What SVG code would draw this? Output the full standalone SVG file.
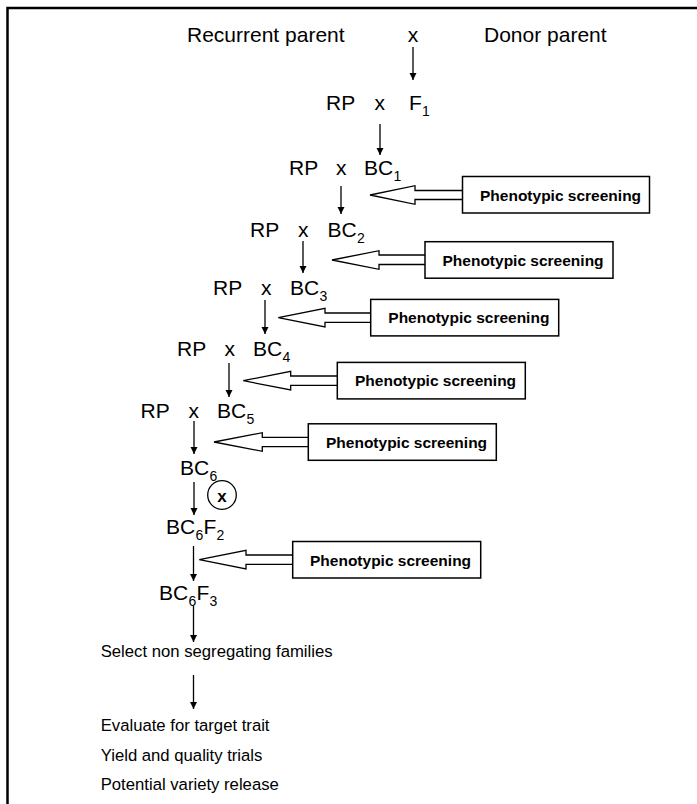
<svg xmlns="http://www.w3.org/2000/svg" width="697" height="804" viewBox="0 0 697 804">
<defs>
<marker id="ah" viewBox="0 0 10 10" refX="10" refY="5" markerWidth="7" markerHeight="9" markerUnits="userSpaceOnUse" orient="auto">
<path d="M0,0 L10,5 L0,10 Z" fill="#000"/>
</marker>
<style>
text{font-family:"Liberation Sans",Arial,sans-serif;fill:#000}
.lg{font-size:21px}
.sb{font-size:14px}
.sm{font-size:16.7px}
.ph{font-size:15.5px;font-weight:bold}
.box{fill:#fff;stroke:#000;stroke-width:1.5}
.blk{fill:#fff;stroke:#000;stroke-width:1.3;stroke-linejoin:miter}
.ar{stroke:#000;stroke-width:1.3;fill:none;marker-end:url(#ah)}
</style>
</defs>
<rect width="697" height="804" fill="#fff"/>
<path d="M7.5,804 V8 H697" fill="none" stroke="#000" stroke-width="2.5"/>

<g id="connectors">
<line class="ar" x1="413" y1="47" x2="413" y2="80"/>
<line class="ar" x1="380" y1="124" x2="380" y2="155"/>
<line class="ar" x1="341" y1="186" x2="341" y2="214"/>
<line class="ar" x1="303" y1="241" x2="303" y2="273"/>
<line class="ar" x1="265" y1="300" x2="265" y2="334"/>
<line class="ar" x1="229" y1="363" x2="229" y2="397"/>
<line class="ar" x1="194" y1="421" x2="194" y2="454"/>
<line class="ar" x1="194" y1="482" x2="194" y2="515"/>
<line class="ar" x1="193.5" y1="546" x2="193.5" y2="581"/>
<line class="ar" x1="193.5" y1="606" x2="193.5" y2="642"/>
<line class="ar" x1="193.5" y1="675" x2="193.5" y2="709"/>
</g>

<g id="parents">
<text class="lg" x="187" y="42">Recurrent parent</text>
<text class="lg" x="407.7" y="42">x</text>
<text class="lg" x="484" y="42">Donor parent</text>
</g>

<g id="row-f1">
<text class="lg" x="326" y="110">RP</text>
<text class="lg" x="374.5" y="110">x</text>
<text class="lg" x="409" y="110">F</text>
<text class="sb" x="422" y="116">1</text>
</g>

<g id="row-bc1">
<text class="lg" x="289" y="175">RP</text>
<text class="lg" x="336" y="175">x</text>
<text class="lg" x="364" y="175">BC</text>
<text class="sb" x="393.5" y="181">1</text>
</g>

<g id="row-bc2">
<text class="lg" x="250" y="237">RP</text>
<text class="lg" x="298" y="237">x</text>
<text class="lg" x="327.5" y="237">BC</text>
<text class="sb" x="357" y="243">2</text>
</g>

<g id="row-bc3">
<text class="lg" x="213" y="295">RP</text>
<text class="lg" x="261" y="295">x</text>
<text class="lg" x="290" y="295">BC</text>
<text class="sb" x="319.5" y="301">3</text>
</g>

<g id="row-bc4">
<text class="lg" x="177" y="356">RP</text>
<text class="lg" x="224.5" y="356">x</text>
<text class="lg" x="253" y="356">BC</text>
<text class="sb" x="282.5" y="362">4</text>
</g>

<g id="row-bc5">
<text class="lg" x="140.5" y="418">RP</text>
<text class="lg" x="188.5" y="418">x</text>
<text class="lg" x="217" y="418">BC</text>
<text class="sb" x="246.5" y="424">5</text>
</g>

<g id="bc6">
<text class="lg" x="180" y="475">BC</text>
<text class="sb" x="209.5" y="481">6</text>
</g>

<g id="selfing">
<circle cx="222" cy="495" r="14.3" fill="#fff" stroke="#000" stroke-width="1.3"/>
<text x="222" y="501.5" text-anchor="middle" style="font-size:17px;font-weight:bold">x</text>
</g>

<g id="bc6f2">
<text class="lg" x="166" y="534">BC</text>
<text class="sb" x="195.5" y="540">6</text>
<text class="lg" x="203.5" y="534">F</text>
<text class="sb" x="216.5" y="540">2</text>
</g>

<g id="bc6f3">
<text class="lg" x="159" y="600">BC</text>
<text class="sb" x="188.5" y="606">6</text>
<text class="lg" x="196.5" y="600">F</text>
<text class="sb" x="209.5" y="606">3</text>
</g>

<g id="screen1">
<path class="blk" d="M462.5,190.5 H415 V185.7 L370,195 L415,204.3 V199.5 H462.5"/>
<rect class="box" x="462.5" y="176.5" width="187" height="36.5"/>
<text class="ph" x="480" y="200.5">Phenotypic screening</text>
</g>

<g id="screen2">
<path class="blk" d="M425,255 H379 V250.7 L332,260 L379,269.3 V264.5 H425"/>
<rect class="box" x="425" y="241.7" width="188" height="36.5"/>
<text class="ph" x="442.5" y="265.7">Phenotypic screening</text>
</g>

<g id="screen3">
<path class="blk" d="M370.7,313 H325 V308.4 L278.3,317.7 L325,327 V322.3 H370.7"/>
<rect class="box" x="370.7" y="299.4" width="188" height="36.5"/>
<text class="ph" x="388.3" y="323.4">Phenotypic screening</text>
</g>

<g id="screen4">
<path class="blk" d="M337.3,376 H290.7 V371.4 L243.3,380.7 L290.7,390 V385.4 H337.3"/>
<rect class="box" x="337.3" y="362.4" width="188" height="36.5"/>
<text class="ph" x="355" y="386.4">Phenotypic screening</text>
</g>

<g id="screen5">
<path class="blk" d="M308.3,437.3 H262.3 V432.7 L214,442 L262.3,451.3 V446.7 H308.3"/>
<rect class="box" x="308.3" y="423.8" width="188" height="36.5"/>
<text class="ph" x="326" y="447.8">Phenotypic screening</text>
</g>

<g id="screen6">
<path class="blk" d="M292.7,555 H246 V550.4 L199.3,559.7 L246,569 V564.4 H292.7"/>
<rect class="box" x="292.7" y="541.5" width="188" height="36.5"/>
<text class="ph" x="310" y="565.5">Phenotypic screening</text>
</g>

<g id="select">
<text class="sm" x="100.7" y="657">Select non segregating families</text>
</g>

<g id="final-steps">
<text class="sm" x="100.7" y="730.5">Evaluate for target trait</text>
<text class="sm" x="100.7" y="760.5">Yield and quality trials</text>
<text class="sm" x="100.7" y="789.5">Potential variety release</text>
</g>
</svg>
